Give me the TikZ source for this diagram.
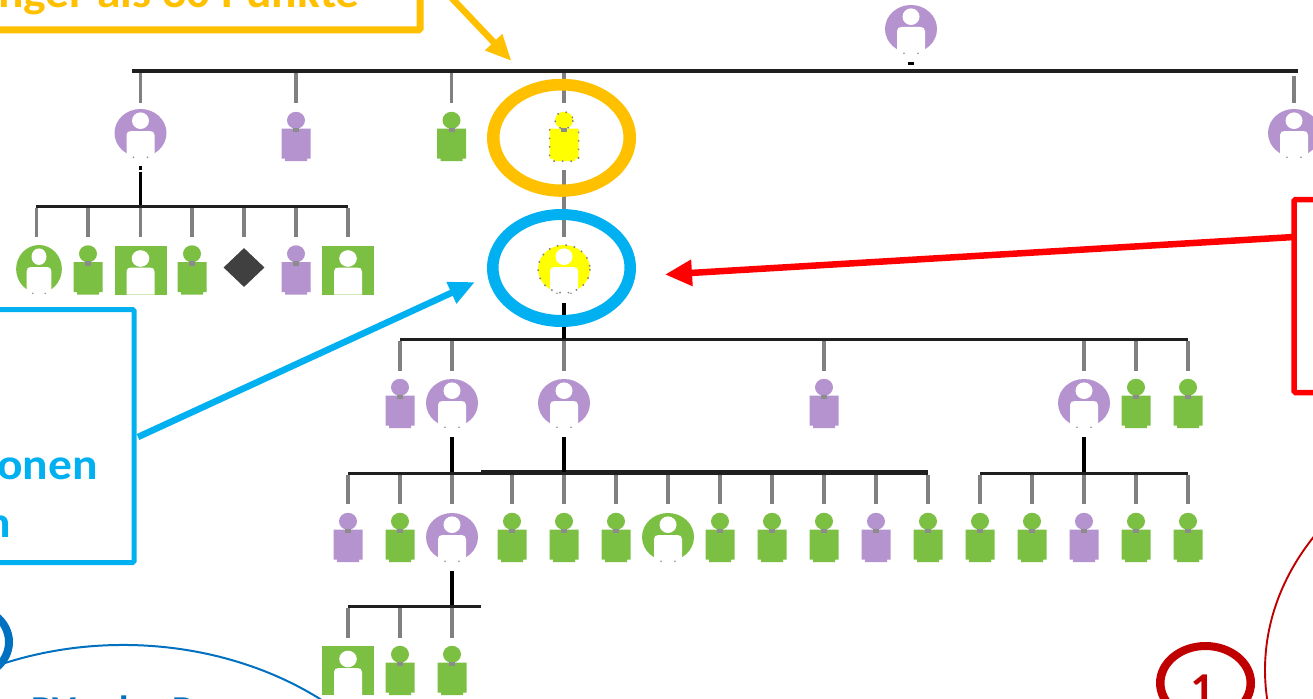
\documentclass[tikz,border=0pt]{standalone}
\usepackage{fontspec}
\setmainfont{Carlito}
\usetikzlibrary{arrows.meta,shapes.geometric}
\definecolor{cpurple}{HTML}{B593CF}
\definecolor{cgreen}{HTML}{7BC043}
\definecolor{cyellow}{HTML}{FFFF00}
\definecolor{corange}{HTML}{FFC000}
\definecolor{csky}{HTML}{00B0F0}
\definecolor{cdblue}{HTML}{0070C0}
\definecolor{cdred}{HTML}{C00000}
\definecolor{cred}{HTML}{FF0000}
\tikzset{
  x=1pt,y=-1pt,
  slot/.style={inner sep=0,outer sep=0,anchor=north,minimum height=49pt},
  stubline/.style={draw=black!50,line width=3.5pt},
  stemline/.style={draw=black,line width=4pt},
  busline/.style={draw=black!88,line width=3pt},
  dotline/.style={draw=black!50,line width=1.5pt,dash pattern=on 1.5pt off 7pt},
  sidelabel/.style={font=\bfseries\fontsize{44}{46}\selectfont,inner sep=0,xscale=1.08,transform shape},
  pvlabel/.style={font=\bfseries\fontsize{38}{40}\selectfont,inner sep=0,xscale=1.06,transform shape},
  boxline/.style={line width=#1,rounded corners=1.5pt},
  callout/.style={line width=6.5pt,-{Triangle[length=26pt,width=22pt]}}
}
% man icon
\newcommand{\manicon}[4]{%
  \node[slot,minimum width=29pt] (#1) at (#2,#3) {};
  \begin{scope}[shift={(#2,#3)}]
    \fill[#4] (0,8.3) ellipse [x radius=9,y radius=8.5];
    \fill[#4] (-14.5,16.5) -- (14.5,16.5) -- (14.5,46.5) -- (11,46.5) -- (11,49) -- (-11,49) -- (-11,46.5) -- (-14.5,46.5) -- cycle;
    \fill[black!45] (-3,15.5) rectangle (3,20);
  \end{scope}}
% round icon
\newcommand{\roundicon}[5][1]{%
  \node[slot,minimum width=52pt] (#2) at (#3,#4) {};
  \begin{scope}[shift={(#3,#4)},xscale=#1]
    \fill[#5] (0,24) ellipse [x radius=26,y radius=24];
    \fill[white] (-14,50) -- (-14,26) .. controls (-14,23) and (-12,22) .. (-9,22) -- (9,22) .. controls (12,22) and (14,23) .. (14,26) -- (14,50) -- cycle;
    \fill[white] (0,11.7) ellipse [x radius=8.5,y radius=8.3];
    \fill[black!45] (-7,48.3) circle [radius=.9] (7,48.3) circle [radius=.9];
  \end{scope}}
% square icon
\newcommand{\squareicon}[4]{%
  \node[slot,minimum width=52pt] (#1) at (#2,#3) {};
  \begin{scope}[shift={(#2,#3)}]
    \fill[#4] (-26,0) rectangle (26,49);
    \fill[white] (-14,49) -- (-14,26) .. controls (-14,23) and (-12,22) .. (-9,22) -- (9,22) .. controls (12,22) and (14,23) .. (14,26) -- (14,49) -- cycle;
    \fill[white] (0,13) ellipse [x radius=8.8,y radius=8.3];
  \end{scope}}
\newcommand{\stubs}[3]{\foreach \n in {#3}{\draw[stubline] (\n.north |- #1) -- (\n.north |- #2);}}
\begin{document}
\begin{tikzpicture}
\useasboundingbox (0,0) rectangle (1313,698);
\clip (0,0) rectangle (1313,698);
\fill[white] (0,0) rectangle (1313,698);
% level coordinates
\coordinate (b1) at (0,73);  \coordinate (e1) at (0,103);
\coordinate (b2) at (0,208); \coordinate (e2) at (0,237);
\coordinate (b3) at (0,341); \coordinate (e3) at (0,371);
\coordinate (b4) at (0,475); \coordinate (e4) at (0,504);
\coordinate (b5) at (0,608); \coordinate (e5) at (0,638);
% top
\roundicon{top}{911}{5}{cpurple}
% row 1
\roundicon{ra}{140.5}{109}{cpurple}
\manicon{rb}{296}{112}{cpurple}
\manicon{rc}{451.5}{112}{cgreen}
\manicon{rd}{564}{112}{cyellow}
\roundicon{re}{1294}{109}{cpurple}
% left group
\roundicon[.88]{la}{39}{245}{cgreen}
\manicon{lb}{88}{245.5}{cgreen}
\squareicon{lc}{140.5}{245.5}{cgreen}
\manicon{ld}{192}{245.5}{cgreen}
\node[diamond,aspect=1.05,fill=black!75,inner sep=0,minimum width=41pt,minimum height=39pt] (le) at (244,267.5) {};
\manicon{lf}{296}{245.5}{cpurple}
\squareicon{lg}{348}{245.5}{cgreen}
% proband
\roundicon{pw}{564}{245}{cyellow}
% row 2
\manicon{sa}{400}{379}{cpurple}
\roundicon{sb}{452}{379}{cpurple}
\roundicon{sc}{564}{379}{cpurple}
\manicon{sd}{824}{379}{cpurple}
\roundicon{se}{1084}{379}{cpurple}
\manicon{sf}{1136}{379}{cgreen}
\manicon{sg}{1188}{379}{cgreen}
% row 3
\manicon{ta}{348}{513}{cpurple}
\manicon{tb}{400}{513}{cgreen}
\roundicon{tc}{452}{513}{cpurple}
\manicon{td}{512}{513}{cgreen}
\manicon{te}{564}{513}{cgreen}
\manicon{tf}{616}{513}{cgreen}
\roundicon{tg}{668}{513}{cgreen}
\manicon{th}{720}{513}{cgreen}
\manicon{ti}{772}{513}{cgreen}
\manicon{tj}{824}{513}{cgreen}
\manicon{tk}{876}{513}{cpurple}
\manicon{tl}{928}{513}{cgreen}
\manicon{tm}{980}{513}{cgreen}
\manicon{tn}{1032}{513}{cgreen}
\manicon{to}{1084}{513}{cpurple}
\manicon{tp}{1136}{513}{cgreen}
\manicon{tq}{1188}{513}{cgreen}
% row 4
\squareicon{ua}{348}{646}{cgreen}
\manicon{ub}{400}{646}{cgreen}
\manicon{uc}{452}{646}{cgreen}
% yellow dots
\draw[dotline] (rd.north) ++(0,8.3) ellipse [x radius=9,y radius=8.5];
\draw[dotline] (rd.north) ++(-14.5,17) -- ++(0,29) -- ++(3.5,3) -- ++(22,0) -- ++(3.5,-3) -- ++(0,-29);
\draw[dotline] (pw.center) ++(0,-.5) ellipse [x radius=26,y radius=24];
% buses
\draw[busline,line width=4pt] (132,71) -- (1298,71);
\draw[busline] (36,206) -- (lg.north |- 0,206);
\draw[stemline,line width=3pt] (ra.north |- 0,172) -- (ra.north |- 0,205);
\draw[stemline,line width=3pt] (ra.north |- 0,166) -- (ra.north |- 0,170);
\draw[busline] (sa.north |- 0,339.5) -- (sg.north |- 0,339.5);
\draw[busline] (ta.north |- 0,473) -- (tl.north |- 0,473);
\draw[busline] (481,471.5) -- (tl.north |- 0,471.5);
\draw[busline] (tm.north |- 0,473) -- (tq.north |- 0,473);
\draw[busline] (ua.north |- 0,606) -- (481,606);
% stems
\draw[stemline,line width=6pt] (911,62.5) -- (911,65.5);
\draw[stemline] (pw.north |- 0,303) -- (pw.north |- 0,339);
\draw[stemline] (sb.north |- 0,437) -- (sb.north |- 0,472);
\draw[stemline] (sc.north |- 0,437) -- (sc.north |- 0,472);
\draw[stemline] (se.north |- 0,437) -- (se.north |- 0,472);
\draw[stemline] (tc.north |- 0,571) -- (tc.north |- 0,605);
% stubs
\stubs{b1}{e1}{ra,rb,rc,rd}
\draw[stubline] (re.north |- 0,76) -- (re.north |- e1);
\draw[stubline] (rd.north |- 0,170) -- (pw.north |- e2);
\stubs{b2}{e2}{lb,lc,ld,lf,lg}
\draw[stubline] (36.5,208) -- (36.5,237);
\draw[stubline] (le.north |- b2) -- (le.north |- e2);
\stubs{b3}{e3}{sa,sb,sc,sd,se,sf,sg}
\stubs{b4}{e4}{ta,tb,tc,td,te,tf,tg,th,ti,tj,tk,tl,tm,tn,to,tp,tq}
\stubs{b5}{e5}{ua,ub,uc}
% rings
\node[ellipse,inner sep=0,minimum width=149pt,minimum height=118pt] (ringo) at (561.5,137.8) {};
\fill[corange,even odd rule] (561.5,137.8) ellipse [x radius=74.5,y radius=59] (561.5,137.5) ellipse [x radius=62,y radius=47];
\node[ellipse,inner sep=0,minimum width=149pt,minimum height=118pt] (ringb) at (561.5,268) {};
\fill[csky,even odd rule] (561.5,268) ellipse [x radius=74.5,y radius=59] (561.5,267.5) ellipse [x radius=63,y radius=47.5];
% boxes
\node[draw=corange,boxline=7pt,anchor=south east,inner sep=0,outer sep=0,minimum width=460pt,minimum height=60pt] (orangebox) at (420,30) {};
\node[draw=csky,boxline=5pt,anchor=north east,inner sep=0,outer sep=0,minimum width=160pt,minimum height=253pt] (bluebox) at (134,309.5) {};
\node[draw=cred,boxline=5.5pt,anchor=north west,inner sep=0,outer sep=0,minimum width=60pt,minimum height=193pt] (redbox) at (1294,199.5) {};
% callouts
\coordinate (os) at (446,-8); \coordinate (ot) at (511.5,61);
\draw[callout,corange] (os) -- (ot);
\coordinate (bs) at (138,437); \coordinate (bt) at (475,282);
\draw[callout,csky] (bs) -- (bt);
\coordinate (rs) at (redbox.west |- 0,237); \coordinate (rt) at (665,274.5);
\draw[callout,cred,-{Triangle[length=27pt,width=25pt]}] (rs) -- (rt);
% labels
\node[sidelabel,text=corange,anchor=base east] (orangetext) at (360,8) {nger als 30 Punkte};
\node[sidelabel,text=csky,anchor=base east] (bluetexta) at (98,479) {onen};
\node[sidelabel,text=csky,anchor=base east] (bluetextb) at (11,537) {n};
% thin ellipses
\coordinate (ea) at (5,663);
\draw[cdblue,line width=2pt] (ea) arc [start angle=-111.9,end angle=-49,x radius=317,y radius=250];
\fill[white] (-36.5,642) ellipse [x radius=41.5,y radius=34];
\fill[cdblue,even odd rule] (-36.5,642) ellipse [x radius=49.5,y radius=41] (-36.5,642) ellipse [x radius=41.5,y radius=34];
\node[pvlabel,text=cdblue,anchor=base west] (pvtext) at (31,722) {PV oder P};
\draw[cdred,line width=1.9pt] (1582,670) ellipse [x radius=317,y radius=250];
\fill[cdred,even odd rule] (1205.5,683) ellipse [x radius=49.5,y radius=41] (1205.5,683) ellipse [x radius=41,y radius=33];
\node[sidelabel,text=cdred,anchor=base] (onetext) at (1203,703) {1};
\end{tikzpicture}
\end{document}
